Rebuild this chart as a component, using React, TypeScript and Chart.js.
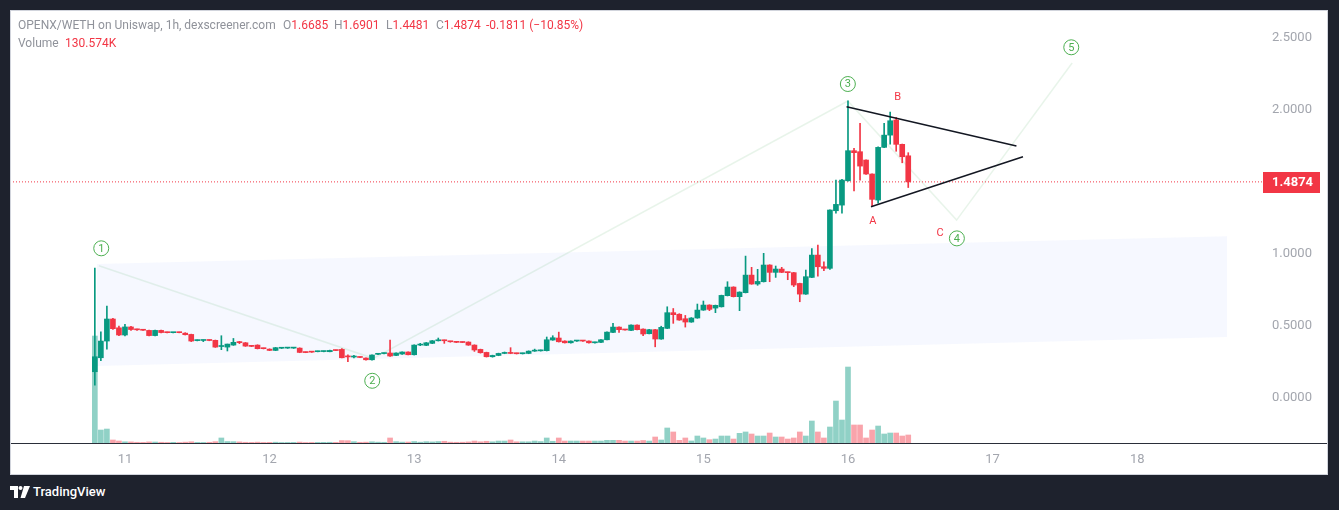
import React, { useEffect, useRef } from 'react';
import { Chart, registerables } from 'chart.js';

Chart.register(...registerables);

// ---------------- data ----------------
// hourly candles starting 10th day, 19:00
const startDay = 10;
const startHour = 19;

const opens = [
  0.169, 0.266, 0.382, 0.535, 0.474, 0.424, 0.480, 0.462, 0.460, 0.456,
  0.420, 0.456, 0.441, 0.440, 0.442, 0.437, 0.428, 0.385, 0.386, 0.388,
  0.387, 0.344, 0.340, 0.354, 0.375, 0.370, 0.347, 0.354, 0.331, 0.326,
  0.317, 0.332, 0.333, 0.333, 0.333, 0.304, 0.306, 0.308, 0.309, 0.308,
  0.318, 0.324, 0.274, 0.271, 0.270, 0.264, 0.252, 0.290, 0.295, 0.299,
  0.282, 0.292, 0.306, 0.287, 0.354, 0.352, 0.366, 0.384, 0.386, 0.379,
  0.375, 0.374, 0.375, 0.354, 0.324, 0.303, 0.273, 0.282, 0.296, 0.299,
  0.296, 0.294, 0.296, 0.312, 0.314, 0.315, 0.389, 0.403, 0.382, 0.370,
  0.382, 0.384, 0.382, 0.370, 0.373, 0.391, 0.442, 0.479, 0.461, 0.456,
  0.493, 0.465, 0.433, 0.461, 0.396, 0.470, 0.579, 0.568, 0.537, 0.514,
  0.542, 0.597, 0.632, 0.611, 0.620, 0.697, 0.757, 0.690, 0.718, 0.840,
  0.778, 0.794, 0.910, 0.859, 0.882, 0.859, 0.857, 0.782, 0.708, 0.824,
  0.979, 0.898, 0.887, 1.287, 1.326, 1.495, 1.704, 1.697, 1.639, 1.542,
  1.361, 1.727, 1.812, 1.917, 1.748, 1.6685,
];
const highs = [
  0.889, 0.446, 0.625, 0.540, 0.486, 0.498, 0.485, 0.465, 0.462, 0.458,
  0.458, 0.459, 0.444, 0.443, 0.444, 0.440, 0.430, 0.390, 0.389, 0.390,
  0.389, 0.419, 0.361, 0.400, 0.380, 0.372, 0.350, 0.356, 0.333, 0.328,
  0.338, 0.336, 0.336, 0.335, 0.335, 0.306, 0.308, 0.312, 0.312, 0.319,
  0.320, 0.329, 0.287, 0.282, 0.272, 0.266, 0.287, 0.295, 0.298, 0.389,
  0.300, 0.308, 0.308, 0.356, 0.366, 0.372, 0.386, 0.403, 0.389, 0.381,
  0.377, 0.376, 0.377, 0.356, 0.326, 0.305, 0.284, 0.298, 0.306, 0.336,
  0.298, 0.298, 0.314, 0.326, 0.320, 0.410, 0.419, 0.444, 0.384, 0.384,
  0.386, 0.386, 0.384, 0.375, 0.393, 0.446, 0.505, 0.481, 0.463, 0.495,
  0.495, 0.467, 0.463, 0.463, 0.485, 0.620, 0.608, 0.572, 0.560, 0.545,
  0.639, 0.660, 0.634, 0.632, 0.701, 0.794, 0.759, 0.724, 0.972, 0.894,
  0.880, 0.991, 0.912, 0.903, 0.894, 0.861, 0.859, 0.784, 0.875, 1.025,
  1.048, 0.933, 1.294, 1.500, 1.505, 2.051, 1.720, 1.894, 1.641, 1.544,
  1.730, 1.894, 1.972, 1.935, 1.750, 1.6901,
];
const lows = [
  0.076, 0.245, 0.326, 0.462, 0.420, 0.418, 0.455, 0.456, 0.455, 0.418,
  0.417, 0.438, 0.438, 0.438, 0.439, 0.424, 0.378, 0.383, 0.378, 0.384,
  0.338, 0.322, 0.313, 0.352, 0.364, 0.345, 0.343, 0.327, 0.327, 0.315,
  0.315, 0.330, 0.331, 0.331, 0.301, 0.301, 0.303, 0.307, 0.307, 0.307,
  0.315, 0.264, 0.238, 0.264, 0.266, 0.250, 0.250, 0.288, 0.293, 0.276,
  0.280, 0.290, 0.285, 0.285, 0.350, 0.350, 0.364, 0.382, 0.366, 0.374,
  0.371, 0.371, 0.352, 0.310, 0.298, 0.271, 0.270, 0.280, 0.294, 0.294,
  0.292, 0.292, 0.294, 0.310, 0.312, 0.313, 0.387, 0.375, 0.368, 0.368,
  0.380, 0.380, 0.368, 0.368, 0.371, 0.389, 0.440, 0.442, 0.457, 0.454,
  0.459, 0.419, 0.431, 0.342, 0.394, 0.468, 0.505, 0.526, 0.479, 0.512,
  0.540, 0.595, 0.593, 0.579, 0.618, 0.695, 0.688, 0.593, 0.716, 0.776,
  0.769, 0.792, 0.794, 0.824, 0.857, 0.808, 0.760, 0.655, 0.706, 0.822,
  0.833, 0.870, 0.880, 1.270, 1.270, 1.493, 1.425, 1.500, 1.540, 1.315,
  1.340, 1.725, 1.750, 1.700, 1.620, 1.4481,
];
const closes = [
  0.273, 0.382, 0.535, 0.468, 0.424, 0.480, 0.462, 0.460, 0.457, 0.420,
  0.456, 0.441, 0.440, 0.442, 0.440, 0.426, 0.382, 0.387, 0.388, 0.386,
  0.340, 0.347, 0.361, 0.373, 0.371, 0.347, 0.345, 0.329, 0.329, 0.317,
  0.336, 0.334, 0.334, 0.334, 0.303, 0.302, 0.305, 0.310, 0.311, 0.317,
  0.316, 0.266, 0.272, 0.274, 0.268, 0.252, 0.285, 0.292, 0.297, 0.278,
  0.299, 0.306, 0.287, 0.354, 0.356, 0.370, 0.384, 0.387, 0.384, 0.377,
  0.373, 0.372, 0.354, 0.320, 0.301, 0.273, 0.282, 0.296, 0.299, 0.296,
  0.294, 0.296, 0.312, 0.314, 0.317, 0.391, 0.405, 0.377, 0.370, 0.382,
  0.384, 0.382, 0.370, 0.373, 0.391, 0.444, 0.479, 0.461, 0.459, 0.493,
  0.461, 0.431, 0.461, 0.396, 0.477, 0.579, 0.565, 0.528, 0.514, 0.542,
  0.597, 0.632, 0.602, 0.630, 0.699, 0.757, 0.690, 0.722, 0.840, 0.778,
  0.796, 0.910, 0.859, 0.882, 0.859, 0.857, 0.771, 0.708, 0.829, 0.979,
  0.898, 0.887, 1.292, 1.331, 1.500, 1.704, 1.690, 1.597, 1.542, 1.366,
  1.727, 1.812, 1.912, 1.748, 1.662, 1.4874,
];
// volume in thousands
const volumesK = [
  1746, 212, 228, 49, 33, 20, 18, 12, 10, 18,
  16, 12, 9, 11, 8, 14, 20, 10, 9, 12,
  22, 82, 24, 22, 18, 12, 10, 14, 9, 11,
  13, 8, 9, 10, 15, 8, 9, 10, 11, 12,
  10, 40, 38, 22, 12, 14, 20, 14, 12, 82,
  22, 15, 16, 24, 14, 22, 18, 24, 28, 14,
  12, 13, 18, 32, 20, 28, 20, 32, 32, 49,
  20, 20, 20, 32, 24, 82, 28, 82, 32, 32,
  32, 32, 32, 32, 32, 44, 44, 44, 32, 32,
  32, 41, 32, 98, 49, 245, 180, 44, 82, 33,
  114, 82, 54, 65, 114, 114, 65, 158, 180, 147,
  114, 114, 163, 98, 98, 65, 82, 180, 114, 359,
  180, 82, 261, 685, 375, 1240, 294, 294, 82, 212,
  277, 147, 163, 163, 114, 130.574,
];

const dayTicks = [11, 12, 13, 14, 15, 16, 17, 18];
const priceTicks = [0, 0.5, 1, 2, 2.5];

// drawings (day, price)
const channelDays = [10.806, 18.621];
const channelTop = [0.917, 1.11];
const channelBottom = [0.208, 0.41];

const waveDays = [10.82, 12.717, 15.999, 16.751, 17.55];
const wavePrices = [0.905, 0.262, 2.049, 1.222, 2.313];

const triUpperDays = [15.99, 17.165];
const triUpperPrices = [2.009, 1.736];
const triLowerDays = [16.159, 17.21];
const triLowerPrices = [1.315, 1.662];

const waveLabels = ['1', '2', '3', '4', '5'];
const waveLabelDays = [10.836, 12.71, 15.999, 16.753, 17.544];
const waveLabelPrices = [1.026, 0.106, 2.167, 1.095, 2.422];

const abcLabels = ['A', 'B', 'C'];
const abcDays = [16.171, 16.344, 16.637];
const abcPrices = [1.215, 2.074, 1.13];

const X_MIN = 10.205;
const X_MAX = 18.863;
const Y_MIN = -0.326;
const Y_MAX = 2.681;
const VOL_MAX = 7067;

const UP = '#089981';
const DOWN = '#f23645';
const UP_VOL = 'rgba(8,153,129,0.45)';
const DOWN_VOL = 'rgba(242,54,69,0.45)';
const WAVE_GREEN = '#4caf50';
const AXIS_TEXT = '#a3a6ae';

const overlayPlugin = {
  id: 'overlay',
  afterDatasetsDraw(chart: any) {
    const { ctx, scales } = chart;
    const x = scales.x;
    const y = scales.y;
    ctx.save();
    // circled wave labels
    waveLabels.forEach((t, i) => {
      const px = x.getPixelForValue(waveLabelDays[i]);
      const py = y.getPixelForValue(waveLabelPrices[i]);
      ctx.beginPath();
      ctx.arc(px, py, 7.5, 0, Math.PI * 2);
      ctx.fillStyle = '#ffffff';
      ctx.fill();
      ctx.lineWidth = 1;
      ctx.strokeStyle = WAVE_GREEN;
      ctx.stroke();
      ctx.fillStyle = WAVE_GREEN;
      ctx.font = '11px Roboto';
      ctx.textAlign = 'center';
      ctx.textBaseline = 'middle';
      ctx.fillText(t, px, py + 0.5);
    });
    abcLabels.forEach((t, i) => {
      const px = x.getPixelForValue(abcDays[i]);
      const py = y.getPixelForValue(abcPrices[i]);
      ctx.fillStyle = DOWN;
      ctx.font = '11px Roboto';
      ctx.textAlign = 'center';
      ctx.textBaseline = 'middle';
      ctx.fillText(t, px, py);
    });
    ctx.restore();
  },
  afterDraw(chart: any) {
    const { ctx, scales, chartArea, width } = chart;
    const y = scales.y;
    ctx.save();
    // separator between pane and time axis
    ctx.fillStyle = '#2a2e39';
    ctx.fillRect(0, Math.round(chartArea.bottom), width, 1);
    // last price label
    const last = closes[closes.length - 1];
    const py = y.getPixelForValue(last);
    ctx.fillStyle = DOWN;
    ctx.fillRect(chartArea.right + 1, Math.round(py) - 10, 57, 21);
    ctx.fillStyle = '#ffffff';
    ctx.font = 'bold 13px Roboto';
    ctx.textAlign = 'left';
    ctx.textBaseline = 'middle';
    ctx.fillText(last.toFixed(4), chartArea.right + 10, Math.round(py) + 1);
    ctx.restore();
  },
};

export default function App() {
  const ref = useRef<HTMLCanvasElement | null>(null);

  useEffect(() => {
    if (!ref.current) return;
    const times = opens.map((_, i) => startDay + (startHour + i) / 24);
    const up = closes.map((c, i) => c >= opens[i]);
    const candleColors = up.map((u) => (u ? UP : DOWN));
    const volColors = up.map((u) => (u ? UP_VOL : DOWN_VOL));
    const last = closes[closes.length - 1];

    const chart = new Chart(ref.current, {
      type: 'bar',
      data: {
        datasets: [
          {
            type: 'line',
            label: 'channel top',
            data: channelDays.map((d, i) => ({ x: d, y: channelTop[i] })),
            borderWidth: 0,
            pointRadius: 0,
            fill: '+1',
            backgroundColor: 'rgba(41,98,255,0.045)',
            order: 30,
          },
          {
            type: 'line',
            label: 'channel bottom',
            data: channelDays.map((d, i) => ({ x: d, y: channelBottom[i] })),
            borderWidth: 0,
            pointRadius: 0,
            fill: false,
            order: 29,
          },
          {
            type: 'line',
            label: 'wave',
            data: waveDays.map((d, i) => ({ x: d, y: wavePrices[i] })),
            borderColor: 'rgba(120,190,130,0.17)',
            borderWidth: 1.5,
            pointRadius: 0,
            fill: false,
            tension: 0,
            order: 28,
          },
          {
            type: 'bar',
            label: 'volume',
            data: times.map((t, i) => ({ x: t, y: volumesK[i] })),
            yAxisID: 'yv',
            backgroundColor: volColors,
            borderWidth: 0,
            barThickness: 5,
            grouped: false,
            order: 25,
          },
          {
            type: 'line',
            label: 'last price',
            data: [
              { x: X_MIN, y: last },
              { x: X_MAX, y: last },
            ],
            borderColor: DOWN,
            borderWidth: 1,
            borderDash: [1, 2],
            pointRadius: 0,
            fill: false,
            order: 22,
          },
          {
            type: 'bar',
            label: 'wick',
            data: times.map((t, i) => ({ x: t, y: [lows[i], highs[i]] })),
            backgroundColor: candleColors,
            borderWidth: 0,
            barThickness: 1,
            grouped: false,
            order: 20,
          },
          {
            type: 'bar',
            label: 'body',
            data: times.map((t, i) => ({ x: t, y: [opens[i], closes[i]] })),
            backgroundColor: candleColors,
            borderWidth: 0,
            barThickness: 5,
            minBarLength: 1,
            grouped: false,
            order: 19,
          },
          {
            type: 'line',
            label: 'triangle upper',
            data: triUpperDays.map((d, i) => ({ x: d, y: triUpperPrices[i] })),
            borderColor: '#131722',
            borderWidth: 1.5,
            pointRadius: 0,
            fill: false,
            order: 5,
          },
          {
            type: 'line',
            label: 'triangle lower',
            data: triLowerDays.map((d, i) => ({ x: d, y: triLowerPrices[i] })),
            borderColor: '#131722',
            borderWidth: 1.5,
            pointRadius: 0,
            fill: false,
            order: 5,
          },
        ] as any,
      },
      options: {
        responsive: false,
        animation: false,
        events: [],
        layout: { padding: 0 },
        plugins: {
          legend: { display: false },
          tooltip: { enabled: false },
        },
        scales: {
          x: {
            type: 'linear',
            min: X_MIN,
            max: X_MAX,
            offset: false,
            grid: { display: false, drawTicks: false },
            border: { display: false },
            ticks: {
              color: AXIS_TEXT,
              font: { family: 'Roboto', size: 13 },
              padding: 9,
              maxRotation: 0,
              autoSkip: false,
              callback: (v: any) => String(v),
            },
            afterBuildTicks: (s: any) => {
              s.ticks = dayTicks.map((v) => ({ value: v }));
            },
            afterFit: (s: any) => {
              s.height = 32;
              s.paddingLeft = 0;
              s.paddingRight = 0;
              s.paddingTop = 0;
              s.paddingBottom = 0;
            },
          },
          y: {
            type: 'linear',
            position: 'right',
            min: Y_MIN,
            max: Y_MAX,
            grid: { display: false, drawTicks: false },
            border: { display: false },
            ticks: {
              color: AXIS_TEXT,
              font: { family: 'Roboto', size: 13 },
              padding: 10,
              labelOffset: 2,
              callback: (v: any) => Number(v).toFixed(4),
            },
            afterBuildTicks: (s: any) => {
              s.ticks = priceTicks.map((v) => ({ value: v }));
            },
            afterFit: (s: any) => {
              s.width = 66;
              s.paddingLeft = 0;
              s.paddingRight = 0;
              s.paddingTop = 0;
              s.paddingBottom = 0;
            },
          },
          yv: {
            type: 'linear',
            display: false,
            min: 0,
            max: VOL_MAX,
          },
        },
      } as any,
      plugins: [overlayPlugin],
    });
    return () => chart.destroy();
  }, []);

  const gray = '#8f929a';
  const red = '#f23645';
  const txt: React.CSSProperties = {
    position: 'absolute',
    fontFamily: 'Roboto, sans-serif',
    fontSize: 12,
    lineHeight: '16px',
    whiteSpace: 'nowrap',
  };

  return (
    <div
      style={{
        position: 'absolute',
        left: 0,
        top: 0,
        width: 1339,
        height: 510,
        background: '#1e222d',
        overflow: 'hidden',
      }}
    >
      <div
        style={{
          position: 'absolute',
          left: 10,
          top: 10,
          width: 1318,
          height: 465,
          background: '#ffffff',
          outline: '1px solid #d1d4dc',
          outlineOffset: -1,
        }}
      >
        <canvas ref={ref} width={1318} height={465} style={{ display: 'block' }} />
      </div>
      <div style={{ ...txt, left: 18, top: 17, color: gray }}>OPENX/WETH on Uniswap, 1h, dexscreener.com</div>
      <div style={{ ...txt, left: 283, top: 17 }}>
        <span style={{ color: gray }}>O</span>
        <span style={{ color: red }}>1.6685</span>
      </div>
      <div style={{ ...txt, left: 334, top: 17 }}>
        <span style={{ color: gray }}>H</span>
        <span style={{ color: red }}>1.6901</span>
      </div>
      <div style={{ ...txt, left: 386, top: 17 }}>
        <span style={{ color: gray }}>L</span>
        <span style={{ color: red }}>1.4481</span>
      </div>
      <div style={{ ...txt, left: 436, top: 17 }}>
        <span style={{ color: gray }}>C</span>
        <span style={{ color: red }}>1.4874</span>
      </div>
      <div style={{ ...txt, left: 486, top: 17, color: red }}>-0.1811 (−10.85%)</div>
      <div style={{ ...txt, left: 18, top: 35, color: gray }}>Volume</div>
      <div style={{ ...txt, left: 65, top: 35, color: red }}>130.574K</div>

      <svg
        width={20}
        height={12}
        viewBox="0 0 20 12"
        style={{ position: 'absolute', left: 10, top: 486 }}
      >
        <path d="M0 0 H8 V12 H4 V4 H0 Z" fill="#ffffff" />
        <circle cx={10.5} cy={2} r={2} fill="#ffffff" />
        <path d="M14 0 H20 L15 12 H10.5 Z" fill="#ffffff" />
      </svg>
      <div
        style={{
          ...txt,
          left: 33,
          top: 484,
          fontSize: 13,
          color: '#ffffff',
          fontWeight: 500,
        }}
      >
        TradingView
      </div>
    </div>
  );
}
